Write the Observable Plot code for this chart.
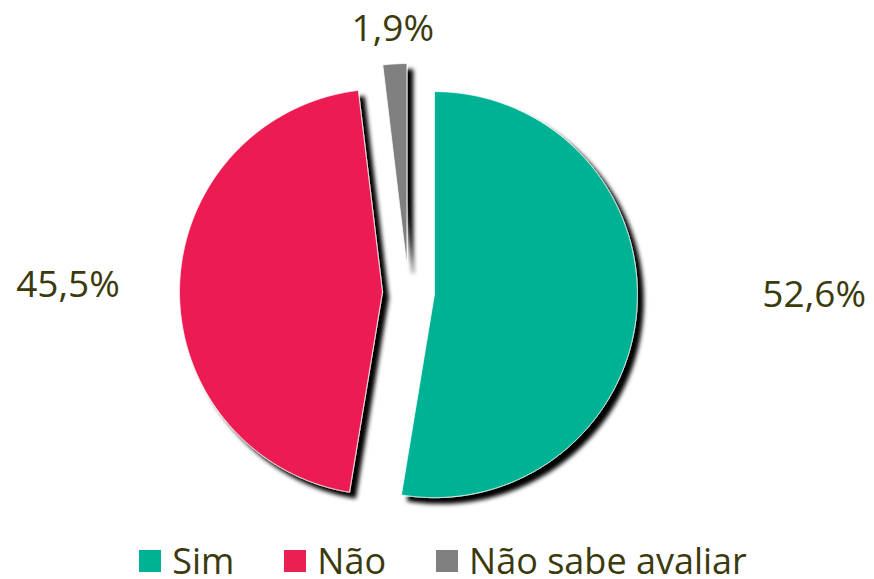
<!DOCTYPE html>
<html>
<head>
<meta charset="utf-8">
<script src="https://cdn.jsdelivr.net/npm/d3@7"></script>
<script src="https://cdn.jsdelivr.net/npm/@observablehq/plot@0.6"></script>
<style>
  body { margin: 0; background: #fff; font-family: "Open Sans", sans-serif; }
  #chart { width: 874px; }
  .legend { display: flex; justify-content: center; align-items: center; gap: 50px;
            padding-left: 12px; padding-top: 3px; height: 36px; font-size: 36px; color: #3b3a0c; line-height: 36px; }
  .legend .item { display: flex; align-items: center; }
  .legend .sw { width: 22px; height: 22px; margin-right: 11px; }
</style>
</head>
<body>
<div id="chart"></div>
<script>
// ---- data ----
const categories = ["Sim", "Não", "Não sabe avaliar"];
const values = [52.6, 45.5, 1.9];
const labels = ["52,6%", "45,5%", "1,9%"];
const colors = ["#00B294", "#EC1F52", "#808080"];

// ---- layout ----
const W = 874, H = 540;
const cx = 408, cy = 292, R = 203; // pixel centre and radius
const explode = 26 / R;
const labelLayout = [{r: 2.005, ny: 0.15}, {r: 1.678, ny: 0}, {r: 1.298, ny: 0}];

const table = categories.map((c, i) => ({name: c, value: values[i], label: labels[i], i}));
const arcs = d3.pie().sort(null).value(d => d.value)(table);

const pts = [];
const labelPts = [];
arcs.forEach(a => {
  const mid = (a.startAngle + a.endAngle) / 2;
  const ox = explode * Math.sin(mid), oy = explode * Math.cos(mid);
  pts.push({name: a.data.name, x: ox, y: oy});
  const n = Math.max(2, Math.ceil((a.endAngle - a.startAngle) / 0.005));
  for (let k = 0; k <= n; k++) {
    const t = a.startAngle + (a.endAngle - a.startAngle) * k / n;
    pts.push({name: a.data.name, x: ox + Math.sin(t), y: oy + Math.cos(t)});
  }
  pts.push({name: a.data.name, x: ox, y: oy});
  const L = labelLayout[a.data.i];
  labelPts.push({label: a.data.label, x: L.r * Math.sin(mid), y: L.r * Math.cos(mid) + L.ny});
});

const plot = Plot.plot({
  width: W, height: H,
  margin: 0,
  x: {domain: [-cx / R, (W - cx) / R], axis: null},
  y: {domain: [-(H - cy) / R, cy / R], axis: null},
  color: {domain: categories, range: colors},
  marks: [
    Plot.line(pts, {x: "x", y: "y", z: "name", fill: "name", stroke: "white", strokeWidth: 0.8, curve: "linear"}),
    Plot.text(labelPts, {x: "x", y: "y", text: "label", fontSize: 37, fill: "#3b3a0c",
      fontFamily: "Open Sans", textAnchor: "middle", lineAnchor: "middle"})
  ]
});

// drop shadow under the slices
const ns = "http://www.w3.org/2000/svg";
const defs = document.createElementNS(ns, "defs");
defs.innerHTML = '<filter id="shadow" x="-20%" y="-20%" width="140%" height="140%">' +
  '<feDropShadow dx="6" dy="6" stdDeviation="2" flood-color="#000" flood-opacity="1"/></filter>';
plot.insertBefore(defs, plot.firstChild);
const lineG = plot.querySelector('g[aria-label="line"]');
if (lineG) lineG.setAttribute("filter", "url(#shadow)");

const root = document.getElementById("chart");
root.appendChild(plot);

const legend = document.createElement("div");
legend.className = "legend";
categories.forEach((c, i) => {
  const it = document.createElement("div");
  it.className = "item";
  const sw = document.createElement("span");
  sw.className = "sw";
  sw.style.background = colors[i];
  const tx = document.createElement("span");
  tx.textContent = c;
  it.appendChild(sw); it.appendChild(tx);
  legend.appendChild(it);
});
root.appendChild(legend);
</script>
</body>
</html>
